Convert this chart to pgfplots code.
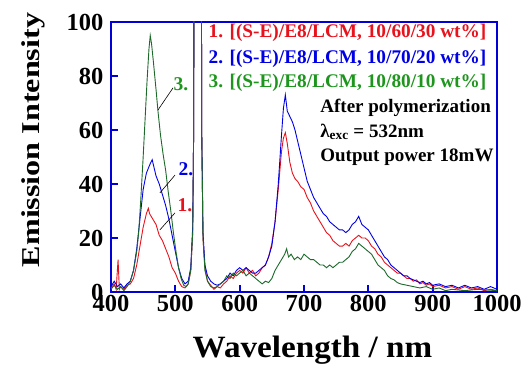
\documentclass[border=0pt]{standalone}
\usepackage{fontspec}
\setmainfont{Liberation Serif}
\usepackage{graphicx}
\usepackage{pgfplots}
\pgfplotsset{compat=1.18}
\definecolor{cred}{RGB}{232,18,28}
\definecolor{cblue}{RGB}{0,0,230}
\definecolor{axblue}{RGB}{0,0,215}
\definecolor{cgreen}{RGB}{28,105,42}
\definecolor{tgreen}{RGB}{30,150,30}
\begin{document}
\begin{tikzpicture}
\begin{axis}[
  at={(0pt,0pt)}, anchor=south west,
  scale only axis, width=386pt, height=270pt,
  xmin=400, xmax=1000, ymin=0, ymax=100,
  xtick={400,500,...,1000}, ytick={0,20,...,100},
  tick align=inside, tick pos=left,
  major tick length=7pt,
  axis line style={draw=axblue, line width=2.2pt},
  every tick/.style={draw=axblue, line width=2pt},
  /pgf/number format/assume math mode=true,
  /pgf/number format/1000 sep={},
  ticklabel style={font=\bfseries\fontsize{24.5}{24.5}\selectfont},
  xticklabel style={yshift=0pt},
  yticklabel style={xshift=-4pt},
  xlabel={\scalebox{1.07}[1]{Wavelength / nm}},
  ylabel={\scalebox{1.25}[1]{Emission Intensity}},
  xlabel style={font=\bfseries\fontsize{31}{31}\selectfont, at={(axis description cs:0.522,-0.241)}, anchor=base},
  ylabel style={font=\bfseries\fontsize{25.7}{25.7}\selectfont, at={(axis description cs:-0.184,0.563)}, anchor=base, rotate=0},
]
% series 1 (red)
\addplot[cred, line width=0.9pt] coordinates {
(400,1.5)(405,3)(408,1)(411,12)(413,1)(415,2)(420,1)(425,2.5)(430,3)(435,5)(440,10)(445,17)(450,24)(455,29)(458,31)(460,29)(465,27)(470,25)(475,21)(480,19)(485,16)(490,13)(495,9)(500,7)(505,4)(510,2)(515,1.5)(520,3)(524,8)(527,22)(528.5,60)(529.3,150)(540.3,150)(541,60)(543,20)(546,9)(550,4)(555,2.5)(560,1)(565,2)(570,1.5)(575,3)(580,4)(585,6)(590,5)(595,7)(600,8)(605,7)(610,9)(615,7)(620,8)(625,6)(630,7)(635,9)(640,10)(645,13)(650,18)(655,26)(660,38)(665,52)(668,57)(671,59)(674,55)(678,48)(682,44)(686,42)(690,41)(695,39)(700,38)(705,35)(710,33)(715,30)(720,28)(725,26)(730,24)(735,22)(740,21)(745,19)(750,18)(755,17)(760,17)(765,18)(770,17)(775,19)(780,20)(785,21)(790,20)(795,20)(800,19)(805,17)(810,16)(815,14)(820,13)(825,11)(830,10)(835,9)(840,8)(845,7)(850,7)(855,6)(860,5)(865,5)(870,4)(875,4.5)(880,3)(885,3.5)(890,2.5)(895,3)(900,2)(910,2.5)(920,1.5)(930,2)(940,1)(950,2)(960,1)(970,1.5)(980,0.5)(990,1)(1000,0.5)
};
% series 2 (blue)
\addplot[cblue, line width=0.9pt] coordinates {
(400,2)(405,4)(410,2)(415,3)(420,1.5)(425,3)(430,4)(435,8)(440,16)(445,27)(450,38)(455,44)(460,47)(464,49)(467,46)(470,43)(475,40)(480,36)(485,32)(490,27)(495,21)(500,15)(505,9)(510,5)(515,3)(520,4)(524,9)(527,24)(528.5,60)(529.3,150)(540.3,150)(541,60)(543,22)(546,10)(550,6)(555,4)(560,3)(565,2.5)(570,3)(575,4)(580,5)(585,7)(590,6)(595,8)(600,9)(605,8)(610,9)(615,8)(620,7)(625,7)(630,8)(635,9)(640,10)(645,13)(650,17)(655,26)(660,40)(665,58)(668,68)(671,73)(674,67)(678,65)(682,63)(686,60)(690,56)(695,51)(700,46)(705,41)(710,38)(715,35)(720,33)(725,31)(730,29)(735,28)(740,26)(745,25)(750,24)(755,23)(760,23)(765,22)(770,23)(775,25)(780,26)(785,28)(790,25)(795,24)(800,23)(805,21)(810,19)(815,17)(820,15)(825,13)(830,12)(835,10)(840,9)(845,8)(850,7)(855,6)(860,6)(865,5)(870,4.5)(875,4)(880,3.5)(885,4)(890,3)(895,3.5)(900,2.5)(910,3)(920,2)(930,2.5)(940,1.5)(950,2.5)(960,1.5)(970,2)(980,1)(990,2)(1000,1)
};
% series 3 (green)
\addplot[cgreen, line width=0.9pt] coordinates {
(400,1)(405,2.5)(410,1)(415,2)(420,0.5)(425,2)(430,4)(435,8)(440,15)(443,22)(446,33)(450,50)(453,64)(456,78)(459,90)(461,95)(463,92)(466,85)(470,75)(473,67)(477,58)(481,51)(485,45)(489,37)(493,30)(497,22)(501,15)(505,9)(509,5)(513,2.5)(517,2)(520,3)(524,8)(527,22)(528.5,60)(529.3,150)(540.3,150)(541,60)(543,20)(546,8)(550,4)(555,2)(560,1.5)(565,2)(570,3)(575,4)(580,6)(585,5)(590,7)(595,6)(600,7)(605,8)(610,6)(615,7)(620,6)(625,5)(630,4)(635,3)(640,4)(645,3.5)(650,5)(655,8)(660,10)(665,12)(670,14)(673,16)(676,13)(680,14)(685,12)(690,13)(695,12)(700,14)(705,13)(710,12)(715,12)(720,11)(725,10)(730,10)(735,9)(740,10)(745,9)(750,10)(755,11)(760,11)(765,12)(770,13)(775,15)(780,16)(785,18)(790,17)(795,16)(800,15)(805,14)(810,12)(815,10)(820,9)(825,8)(830,6)(835,5)(840,4.5)(845,3.5)(850,3)(860,2.5)(870,2)(880,1.5)(890,2)(900,1)(910,1.5)(920,0.5)(930,1)(950,0.5)(970,1)(1000,0.5)
};
% annotations
\draw[black, line width=0.6pt] (axis cs:496.4,75.6) -- (axis cs:473,67.4);
\draw[black, line width=0.6pt] (axis cs:499.5,43.3) -- (axis cs:476,36.7);
\draw[black, line width=0.6pt] (axis cs:499.5,29.3) -- (axis cs:476,23);
\node[text=tgreen, font=\bfseries\fontsize{19.5}{19.5}\selectfont] at (axis cs:508.8,77) {3.};
\node[text=cblue, font=\bfseries\fontsize{19.5}{19.5}\selectfont] at (axis cs:516.6,45.6) {2.};
\node[text=cred, font=\bfseries\fontsize{19.5}{19.5}\selectfont] at (axis cs:515,32.2) {1.};
% legend text
\node[anchor=base east, text=cred, font=\bfseries\fontsize{19.3}{19.3}\selectfont] at (axis cs:989,94.1) {1. [(S-E)/E8/LCM, 10/60/30 wt\%]};
\node[anchor=base east, text=cblue, font=\bfseries\fontsize{19.3}{19.3}\selectfont] at (axis cs:989,84.8) {2. [(S-E)/E8/LCM, 10/70/20 wt\%]};
\node[anchor=base east, text=tgreen, font=\bfseries\fontsize{19.3}{19.3}\selectfont] at (axis cs:989,75.9) {3. [(S-E)/E8/LCM, 10/80/10 wt\%]};
% info text
\node[anchor=base west, font=\bfseries\fontsize{19}{19}\selectfont] at (axis cs:720,66.3) {After polymerization};
\node[anchor=base west, font=\bfseries\fontsize{19}{19}\selectfont] at (axis cs:720,57.4) {λ\textsubscript{exc} = 532nm};
\node[anchor=base west, font=\bfseries\fontsize{19}{19}\selectfont] at (axis cs:720,48.5) {Output power 18mW};
\end{axis}
\path (-111pt,-71pt) rectangle (421pt,292pt);
\end{tikzpicture}
\end{document}
